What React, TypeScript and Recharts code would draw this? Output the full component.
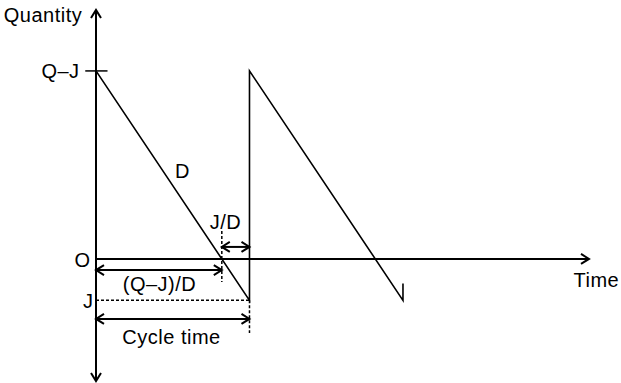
import { ComposedChart, Line, XAxis, YAxis, ReferenceLine, ReferenceDot } from 'recharts';

// Inventory sawtooth: time in cycles, quantity in units
const inventoryTime = [0, 1, 1, 2, 2];
const inventoryLevel = [100, -22, 100, -22, -13];

const topLevel = 100; // Q–J
const backorderLevel = -22; // J
const cycleLength = 1;
const crossTime = topLevel / (topLevel - backorderLevel); // (Q–J)/D

const timeRange = [0, 3.212];
const qtyRange = [-64.9, 132.4];

// dimension arrows and guide lines
const jdArrowLevel = 6.4;
const qjdArrowLevel = -5.9;
const cycleArrowLevel = -31.9;
const crossGuide = [14.9, -12.2];
const cycleGuide = [backorderLevel, -39.4];
const qjTick = [-0.07, 0.075];

// text annotations (time, quantity)
const annotations = [
  { text: 'Quantity', t: -0.345, q: 129.8 },
  { text: 'Q–J', t: -0.231, q: 100 },
  { text: 'O', t: -0.088, q: -0.4 },
  { text: 'J', t: -0.05, q: -22.5 },
  { text: 'D', t: 0.5635, q: 46.8 },
  { text: 'J/D', t: 0.8436, q: 19.7 },
  { text: '(Q–J)/D', t: 0.4137, q: -13.3 },
  { text: 'Cycle time', t: 0.492, q: -41.3 },
  { text: 'Time', t: 3.26, q: -11.2 },
];

const data = inventoryTime.map((t, i) => ({ t, q: inventoryLevel[i] }));

function arrowPath(tipX: number, tipY: number, fromX: number, fromY: number, len = 8, half = 5) {
  const dx = tipX - fromX;
  const dy = tipY - fromY;
  const d = Math.hypot(dx, dy) || 1;
  const ux = dx / d;
  const uy = dy / d;
  const bx = tipX - ux * len;
  const by = tipY - uy * len;
  return `M${bx - uy * half},${by + ux * half}L${tipX},${tipY}L${bx + uy * half},${by - ux * half}`;
}

const arrowLine = (start: boolean, end: boolean, width = 2) => (p: any) => {
  const { x1, y1, x2, y2 } = p;
  return (
    <g>
      <line x1={x1} y1={y1} x2={x2} y2={y2} stroke="#000" strokeWidth={width} />
      {end && <path d={arrowPath(x2, y2, x1, y1)} fill="none" stroke="#000" strokeWidth={width} />}
      {start && <path d={arrowPath(x1, y1, x2, y2)} fill="none" stroke="#000" strokeWidth={width} />}
    </g>
  );
};

export default function App() {
  return (
    <div
      style={{
        position: 'absolute',
        left: 0,
        top: 0,
        fontFamily: '"Liberation Sans", Arial, sans-serif',
        letterSpacing: '0.5px',
      }}
    >
      <ComposedChart
        width={621}
        height={383}
        data={data}
        margin={{ top: 10, right: 32, bottom: 2, left: 96 }}
        style={{ background: '#fff' }}
      >
        <XAxis dataKey="t" type="number" domain={timeRange} allowDataOverflow hide />
        <YAxis type="number" domain={qtyRange} allowDataOverflow hide />

        {/* axes */}
        <ReferenceLine
          segment={[{ x: 0, y: qtyRange[0] }, { x: 0, y: qtyRange[1] }]}
          ifOverflow="visible"
          shape={arrowLine(true, true, 2)}
        />
        <ReferenceLine
          segment={[{ x: 0, y: 0 }, { x: timeRange[1], y: 0 }]}
          ifOverflow="visible"
          shape={arrowLine(false, true, 2)}
        />
        <ReferenceLine
          segment={[{ x: qjTick[0], y: topLevel }, { x: qjTick[1], y: topLevel }]}
          ifOverflow="visible"
          stroke="#000"
          strokeWidth={1.5}
        />

        {/* guides */}
        <ReferenceLine
          segment={[{ x: 0, y: backorderLevel }, { x: cycleLength, y: backorderLevel }]}
          ifOverflow="visible"
          stroke="#000"
          strokeWidth={1.5}
          strokeDasharray="3 2"
        />
        <ReferenceLine
          segment={[{ x: crossTime, y: crossGuide[0] }, { x: crossTime, y: crossGuide[1] }]}
          ifOverflow="visible"
          stroke="#000"
          strokeWidth={1.5}
          strokeDasharray="3 2"
        />
        <ReferenceLine
          segment={[{ x: cycleLength, y: cycleGuide[0] }, { x: cycleLength, y: cycleGuide[1] }]}
          ifOverflow="visible"
          stroke="#000"
          strokeWidth={1.5}
          strokeDasharray="3 2"
        />

        {/* dimension arrows */}
        <ReferenceLine
          segment={[{ x: crossTime, y: jdArrowLevel }, { x: cycleLength, y: jdArrowLevel }]}
          ifOverflow="visible"
          shape={arrowLine(true, true, 2)}
        />
        <ReferenceLine
          segment={[{ x: 0, y: qjdArrowLevel }, { x: crossTime, y: qjdArrowLevel }]}
          ifOverflow="visible"
          shape={arrowLine(true, true, 2)}
        />
        <ReferenceLine
          segment={[{ x: 0, y: cycleArrowLevel }, { x: cycleLength, y: cycleArrowLevel }]}
          ifOverflow="visible"
          shape={arrowLine(true, true, 2)}
        />

        <Line
          dataKey="q"
          type="linear"
          stroke="#000"
          strokeWidth={1.6}
          dot={false}
          activeDot={false}
          isAnimationActive={false}
        />

        {annotations.map((a) => (
          <ReferenceDot
            key={a.text}
            x={a.t}
            y={a.q}
            r={0}
            fill="none"
            stroke="none"
            ifOverflow="visible"
            label={{ value: a.text, position: 'center', fill: '#000', fontSize: 20 }}
          />
        ))}
      </ComposedChart>
    </div>
  );
}
